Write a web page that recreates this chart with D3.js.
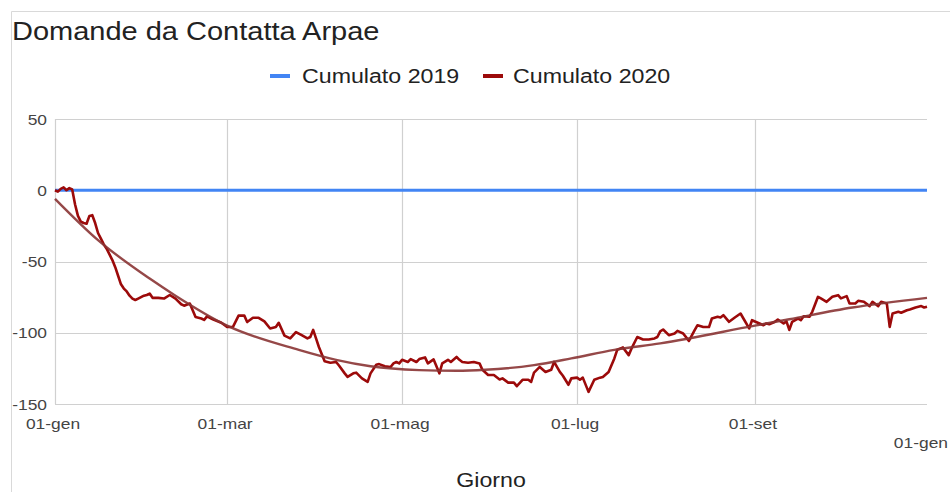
<!DOCTYPE html>
<html>
<head>
<meta charset="utf-8">
<script src="https://cdn.jsdelivr.net/npm/d3@7"></script>
<style>
  html, body { margin: 0; padding: 0; background: #fff; }
  svg { display: block; font-family: "Liberation Sans", Arial, sans-serif; }
</style>
</head>
<body>
<svg id="chart" width="950" height="492"></svg>
<script>
// ---------- DATA ----------
const title = "Domande da Contatta Arpae";
const xAxisTitle = "Giorno";
const seriesNames = ["Cumulato 2019", "Cumulato 2020"];
const yTicks = [50, 0, -50, -100, -150];
const xTickDates = ["2020-01-01", "2020-03-01", "2020-05-01", "2020-07-01", "2020-09-01"];
const xTickLabels = ["01-gen", "01-mar", "01-mag", "01-lug", "01-set"];
const xEndLabel = "01-gen";
const startDate = "2020-01-01";
const endDate = "2020-10-31";

// Cumulato 2019 (baseline)
const days2019 = [0, 304];
const values2019 = [0, 0];

// Cumulato 2020: day offset from 1 Jan 2020, value
const days2020 = [0,1,2,3,4,5,6,7,8,9,10,11,12,13,14,15,16,17,18,19,20,21,22,23,24,25,26,27,28,29,30,31,32,33,34,36,38,40,42,44,45,47,49,51,52,53,55,58,60,62,64,66,67,69,71,73,75,77,78,80,82,84,86,88,89,90,91,92,94,96,98,99,101,102,104,105,107,109,110,112,113,115,117,118,119,120,121,123,124,126,127,129,130,132,134,135,137,138,140,141,142,144,146,148,149,151,153,155,156,158,160,161,163,165,166,167,169,171,173,174,176,177,179,180,182,183,184,186,188,190,191,193,195,196,198,200,201,203,205,207,209,210,211,212,214,216,217,219,221,223,224,226,228,229,231,232,233,235,237,239,240,242,243,245,247,248,249,251,252,254,255,256,257,259,260,261,263,264,266,267,269,271,273,274,276,277,279,280,282,284,285,287,288,290,291,292,294,295,297,298,300,302,303,304];
const values2020 = [0,-1,1,2,0,1.5,0.5,-10,-18,-22,-23,-23.5,-18,-17.5,-23,-30,-34,-38,-41,-45,-49,-54,-60,-66,-69,-71,-74,-76,-77,-76,-75,-74,-73.5,-72.5,-75.5,-75.5,-76,-73.5,-76,-80,-81,-79.5,-89,-90,-91,-88.5,-90.5,-93,-96,-96,-88,-88,-92.5,-89.5,-89.5,-92,-97,-96,-93,-102,-104,-99.5,-101.7,-104,-103,-98,-104,-110,-120,-121,-120.5,-123,-128.5,-131,-128.5,-128,-132,-134.5,-128.5,-122.5,-122,-123.5,-124,-121.5,-120.5,-121.5,-119,-120.5,-118.5,-120.5,-118.5,-117.3,-121.5,-118.7,-128.5,-121.5,-119,-120.5,-117,-119,-120.5,-121,-120.5,-121.5,-126,-129.7,-129.7,-132.8,-132,-135,-135,-137.5,-133,-133,-134.5,-128,-124,-127.5,-126,-120.5,-127.5,-130,-136.5,-132,-131.5,-133,-131.5,-141.5,-133,-131.5,-131,-127.5,-118,-112,-110.3,-115.7,-111,-103,-104.7,-104.7,-104,-103,-99,-97.7,-101.7,-100.5,-98.7,-100.5,-105.7,-98.2,-94.7,-96,-96,-90,-88.8,-89.3,-87.7,-92.3,-89.3,-86.5,-90,-97,-91.2,-93,-94.7,-93.5,-94,-92.3,-90.7,-93.5,-92,-98,-92.3,-90,-91.2,-88.4,-88.8,-85.3,-74.8,-75.9,-78.3,-74.8,-73.6,-75.9,-74.3,-79.5,-79.5,-77.6,-78.3,-81.3,-78.3,-81.3,-78.3,-79.5,-95.9,-86.5,-85.3,-86,-84.2,-83.7,-82.3,-81.3,-82.3,-81.8];

// Trend line of Cumulato 2020
const trendDays = [0, 15, 33, 42, 60, 85, 98, 110, 127, 140, 150, 167, 180, 195, 211, 244, 256, 278, 304];
const trendValues = [-6, -35, -62, -74, -95, -112, -119, -123.5, -126.2, -126.7, -126, -122.7, -118, -112, -107.5, -95, -90.5, -82.3, -75.5];

// ---------- CHART ----------
const svg = d3.select("#chart");
const SX = 1.16; // horizontal glyph stretch of the reference
const parse = d3.timeParse("%Y-%m-%d");
const t0 = parse(startDate);
const toDate = d => d3.timeDay.offset(t0, d);

const x = d3.scaleTime().domain([t0, parse(endDate)]).range([55, 927]);
const y = d3.scaleLinear().domain([-150, 50]).range([404, 119]);

function txt(px, py, str, size, anchor, fill) {
  return svg.append("text")
    .attr("transform", `translate(${px},${py}) scale(${SX},1)`)
    .attr("text-anchor", anchor)
    .attr("fill", fill)
    .style("font-size", size + "px")
    .text(str);
}

// card border
svg.append("line").attr("x1", 11.5).attr("x2", 950).attr("y1", 11.5).attr("y2", 11.5).attr("stroke", "#d9d9d9");
svg.append("line").attr("x1", 11.5).attr("x2", 11.5).attr("y1", 11.5).attr("y2", 492).attr("stroke", "#d9d9d9");

// grid
const grid = svg.append("g");
grid.selectAll("line.h").data(yTicks).join("line")
  .attr("x1", x.range()[0]).attr("x2", x.range()[1])
  .attr("y1", d => Math.round(y(d)) + 0.5).attr("y2", d => Math.round(y(d)) + 0.5)
  .attr("stroke", "#d0d0d0").attr("stroke-width", 1.2);
grid.selectAll("line.v").data(xTickDates).join("line")
  .attr("x1", d => Math.round(x(parse(d))) + 0.5).attr("x2", d => Math.round(x(parse(d))) + 0.5)
  .attr("y1", y(50)).attr("y2", y(-150))
  .attr("stroke", "#d0d0d0").attr("stroke-width", 1.2);

// y tick labels
yTicks.forEach(v => txt(47, y(v) + 5.5, String(v), 15, "end", "#444"));

// x tick labels
xTickDates.forEach((d, i) => txt(x(parse(d)) - 2, 429, xTickLabels[i], 15, "middle", "#444"));
txt(948, 448, xEndLabel, 15, "end", "#444");

// series
const line = d3.line().x(d => x(toDate(d[0]))).y(d => y(d[1]));

svg.append("path")
  .datum(days2019.map((d, i) => [d, values2019[i]]))
  .attr("d", line)
  .attr("fill", "none").attr("stroke", "#4285f4").attr("stroke-width", 3);

svg.append("path")
  .datum(days2020.map((d, i) => [d, values2020[i]]))
  .attr("d", line)
  .attr("fill", "none").attr("stroke", "#9c0a0a").attr("stroke-width", 2.6)
  .attr("stroke-linejoin", "round");

svg.append("path")
  .datum(trendDays.map((d, i) => [d, trendValues[i]]))
  .attr("d", line.curve(d3.curveMonotoneX))
  .attr("fill", "none").attr("stroke", "#8a3434").attr("stroke-opacity", 0.9).attr("stroke-width", 2.4);

// title
txt(12, 40, title, 25, "start", "#222");

// legend
const legend = [
  { name: seriesNames[0], color: "#4285f4", sx: 270, tx: 302 },
  { name: seriesNames[1], color: "#9c0a0a", sx: 483, tx: 513 }
];
legend.forEach(l => {
  svg.append("line").attr("x1", l.sx).attr("x2", l.sx + 20).attr("y1", 76).attr("y2", 76)
    .attr("stroke", l.color).attr("stroke-width", 4);
  txt(l.tx, 83, l.name, 20, "start", "#222");
});

// axis title
txt(491, 487, xAxisTitle, 20, "middle", "#222");
</script>
</body>
</html>
